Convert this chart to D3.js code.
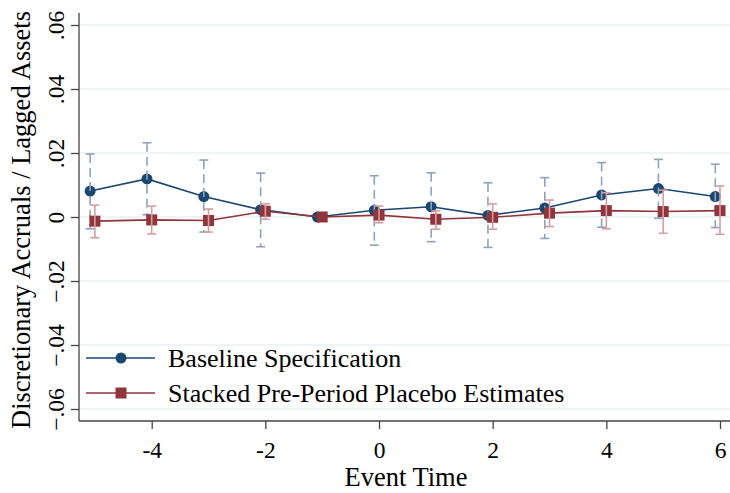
<!DOCTYPE html>
<html>
<head>
<meta charset="utf-8">
<script src="https://cdn.jsdelivr.net/npm/d3@7"></script>
<style>
  html, body { margin: 0; padding: 0; background: #fff; }
  svg { display: block; font-family: "Liberation Serif", "Times New Roman", serif; }
</style>
</head>
<body>
<svg id="chart" width="730" height="493"></svg>
<script>
// Event-study estimates by event time
const eventTime = [-5, -4, -3, -2, -1, 0, 1, 2, 3, 4, 5, 6];

const baselineEst = [0.0081, 0.0119, 0.0064, 0.0023, 0.0, 0.0021, 0.0032, 0.0005, 0.0028, 0.0069, 0.0089, 0.0064];
const baselineLo  = [-0.0037, 0.0007, -0.0047, -0.0093, null, -0.0088, -0.0077, -0.0095, -0.0067, -0.0032, -0.0004, -0.0033];
const baselineHi  = [0.0197, 0.0232, 0.0178, 0.0137, null, 0.0129, 0.0138, 0.0107, 0.0123, 0.0170, 0.0180, 0.0165];

const placeboEst = [-0.0013, -0.0009, -0.0011, 0.0018, 0.0, 0.0006, -0.0007, -0.0001, 0.0012, 0.0020, 0.0017, 0.0020];
const placeboLo  = [-0.0065, -0.0053, -0.0047, -0.0007, null, -0.0018, -0.0038, -0.0038, -0.0030, -0.0037, -0.0051, -0.0054];
const placeboHi  = [0.0037, 0.0034, 0.0025, 0.0041, null, 0.0034, 0.0019, 0.0041, 0.0053, 0.0076, 0.0084, 0.0097];

const xTicks = [-4, -2, 0, 2, 4, 6];
const yTicks = [-0.06, -0.04, -0.02, 0, 0.02, 0.04, 0.06];

const seriesNames = ["Baseline Specification", "Stacked Pre-Period Placebo Estimates"];

const blue = "#1a476f", blueBar = "#8ea3b9";
const red = "#90353b", redBar = "#d59ea2";

const svg = d3.select("#chart");
const plotLeft = 79, plotRight = 730, plotTop = 13, plotBottom = 421;

const x = d3.scaleLinear().domain([-4, 6]).range([151.7, 720]);
const y = d3.scaleLinear().domain([-0.06, 0.06]).range([409, 25]);

const fmt = v => v === 0 ? "0" : d3.format(".2f")(v).replace("0.", ".");

// horizontal gridlines
svg.append("g").selectAll("line").data(yTicks).join("line")
  .attr("x1", plotLeft).attr("x2", plotRight)
  .attr("y1", d => y(d)).attr("y2", d => y(d))
  .attr("stroke", "#eaf1f4").attr("stroke-width", 1.6);

// y axis
const yAxis = svg.append("g").attr("transform", `translate(${plotLeft},0)`)
  .call(d3.axisLeft(y).tickValues(yTicks).tickFormat(fmt).tickSize(8).tickSizeOuter(0));
yAxis.select(".domain").attr("d", `M0,${plotTop}V${plotBottom}`).attr("stroke", "#444").attr("stroke-width", 1.3);
yAxis.selectAll(".tick line").attr("stroke", "#444").attr("stroke-width", 1.3);
yAxis.selectAll(".tick text")
  .attr("font-family", "Liberation Serif").attr("font-size", 23.5).attr("fill", "#000")
  .attr("x", 0).attr("dy", 0)
  .attr("text-anchor", "middle")
  .attr("transform", "translate(-15,0) rotate(-90)");

// x axis
const xAxis = svg.append("g").attr("transform", `translate(0,${plotBottom})`)
  .call(d3.axisBottom(x).tickValues(xTicks).tickFormat(d3.format("d")).tickSize(8).tickSizeOuter(0));
xAxis.select(".domain").attr("d", `M${plotLeft},0H${plotRight}`).attr("stroke", "#444").attr("stroke-width", 1.3);
xAxis.selectAll(".tick line").attr("stroke", "#444").attr("stroke-width", 1.3);
xAxis.selectAll(".tick text")
  .attr("font-family", "Liberation Serif").attr("font-size", 23.5).attr("fill", "#000")
  .attr("y", 37).attr("dy", 0).text(d => d < 0 ? "-" + Math.abs(d) : d);

// axis titles
svg.append("text").attr("x", 406).attr("y", 486).attr("text-anchor", "middle")
  .attr("font-size", 26.5).attr("fill", "#000").text("Event Time");
svg.append("text").attr("transform", "translate(30,220) rotate(-90)").attr("text-anchor", "middle")
  .attr("font-size", 26.5).attr("fill", "#000").text("Discretionary Accruals / Lagged Assets");

const shift = -0.083;
const rows = (est, lo, hi, dx) => eventTime.map((t, i) => ({ t: t + dx, est: est[i], lo: lo[i], hi: hi[i] }));
const base = rows(baselineEst, baselineLo, baselineHi, shift);
const plac = rows(placeboEst, placeboLo, placeboHi, 0);

const line = d3.line().x(d => x(d.t)).y(d => y(d.est));
const cap = 4.5;

function drawBars(data, color, dash) {
  const g = svg.append("g");
  const withCI = data.filter(d => d.lo !== null);
  g.selectAll("line.ci").data(withCI).join("line").attr("class", "ci")
    .attr("x1", d => x(d.t)).attr("x2", d => x(d.t))
    .attr("y1", d => y(d.hi)).attr("y2", d => y(d.lo))
    .attr("stroke", color).attr("stroke-width", 1.6).attr("stroke-dasharray", dash);
  ["hi", "lo"].forEach(k => {
    g.selectAll("line.cap" + k).data(withCI).join("line").attr("class", "cap" + k)
      .attr("x1", d => x(d.t) - cap).attr("x2", d => x(d.t) + cap)
      .attr("y1", d => y(d[k])).attr("y2", d => y(d[k]))
      .attr("stroke", color).attr("stroke-width", 1.6);
  });
}

// baseline series
svg.append("path").datum(base).attr("d", line).attr("fill", "none").attr("stroke", blue).attr("stroke-width", 1.6);
svg.append("g").selectAll("circle").data(base).join("circle")
  .attr("cx", d => x(d.t)).attr("cy", d => y(d.est)).attr("r", 5.5).attr("fill", blue);
drawBars(base, blueBar, "9,5");

// placebo series
svg.append("path").datum(plac).attr("d", line).attr("fill", "none").attr("stroke", red).attr("stroke-width", 1.6);
svg.append("g").selectAll("rect").data(plac).join("rect")
  .attr("x", d => x(d.t) - 5.5).attr("y", d => y(d.est) - 5.5)
  .attr("width", 11).attr("height", 11).attr("fill", red);
drawBars(plac, redBar, null);

// legend
const legend = svg.append("g");
const legendRows = [
  { name: seriesNames[0], color: blue, shape: "circle", yy: 358 },
  { name: seriesNames[1], color: red, shape: "square", yy: 393 }
];
legendRows.forEach(r => {
  legend.append("line").attr("x1", 86).attr("x2", 155).attr("y1", r.yy).attr("y2", r.yy)
    .attr("stroke", r.color).attr("stroke-width", 1.6);
  if (r.shape === "circle") {
    legend.append("circle").attr("cx", 121).attr("cy", r.yy).attr("r", 5.5).attr("fill", r.color);
  } else {
    legend.append("rect").attr("x", 115.5).attr("y", r.yy - 5.5).attr("width", 11).attr("height", 11).attr("fill", r.color);
  }
  legend.append("text").attr("x", 168).attr("y", r.yy + 9).attr("font-size", 26).attr("fill", "#000").text(r.name);
});
</script>
</body>
</html>
